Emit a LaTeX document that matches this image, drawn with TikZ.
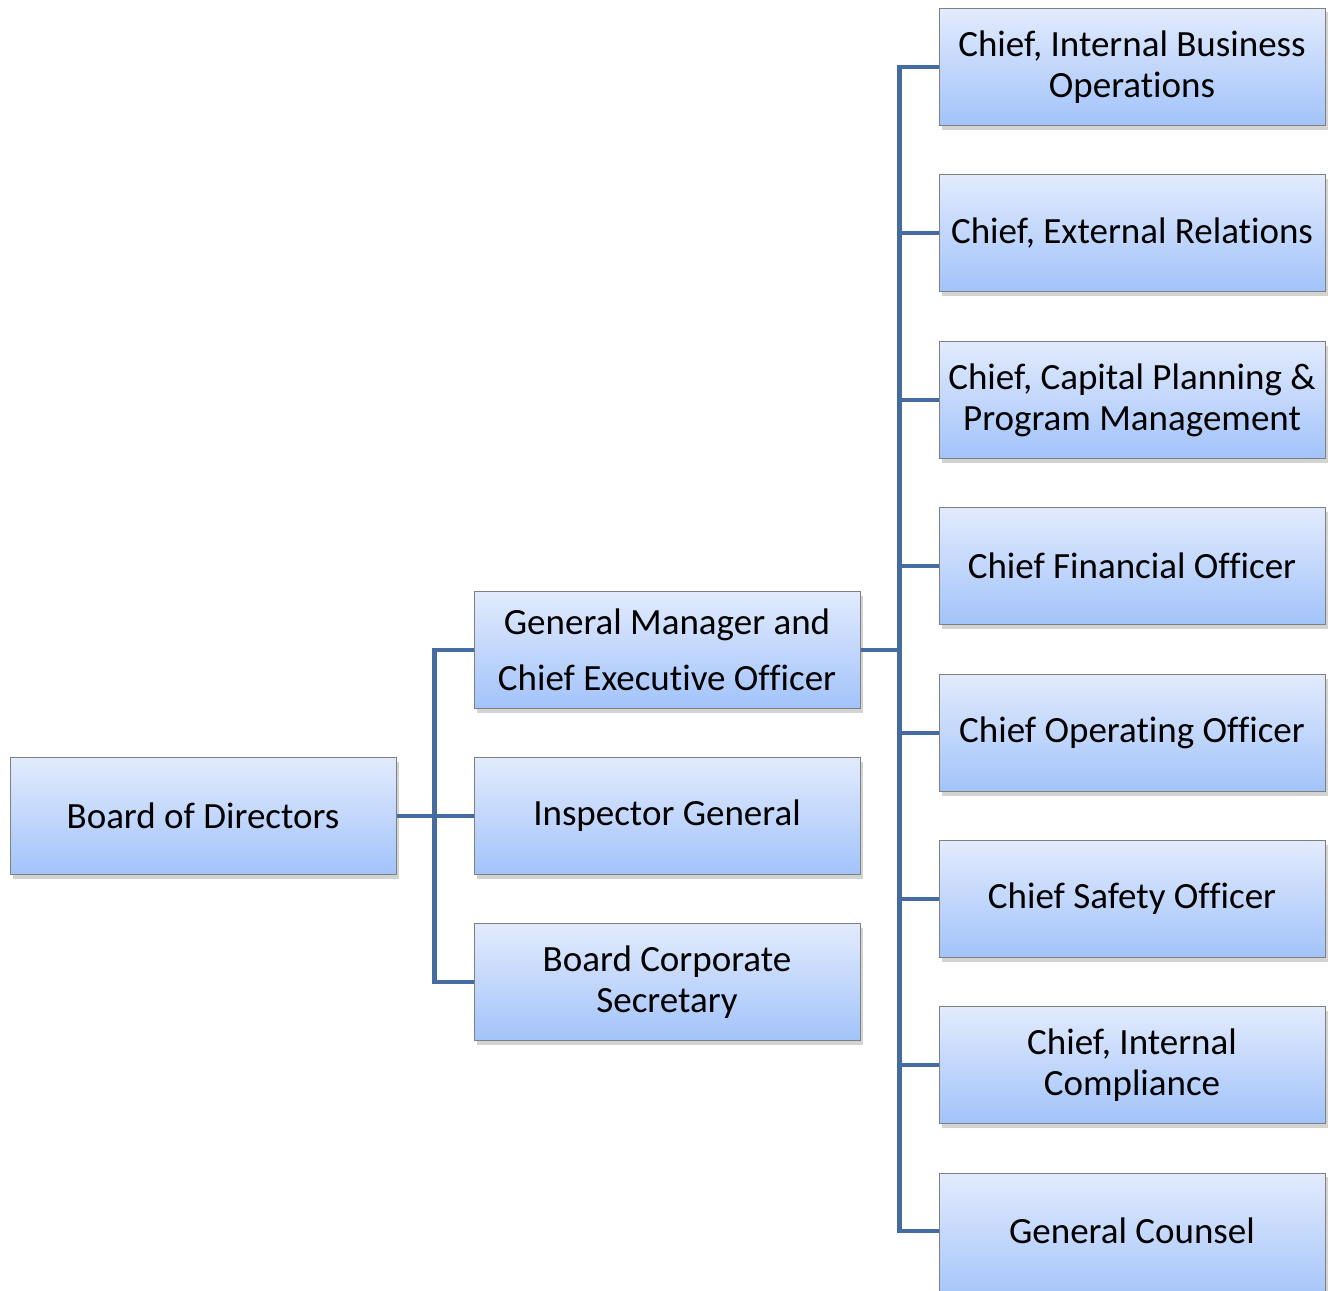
\documentclass[tikz,border=0pt]{standalone}
\usepackage{fontspec}
\setmainfont{Carlito}[Ligatures=NoCommon]
\usepackage{tikz}
\usetikzlibrary{positioning, shadows, calc}
\definecolor{boxtop}{RGB}{226,235,253}
\definecolor{boxbottom}{RGB}{162,195,250}
\definecolor{boxedge}{RGB}{128,128,128}
\definecolor{linkblue}{RGB}{68,108,162}

\begin{document}
\begin{tikzpicture}[
    x=1pt, y=-1pt,
    every node/.style={font=\fontsize{37}{41}\selectfont, text=black, align=center},
    orgbox/.style={draw=boxedge, line width=1pt, top color=boxtop, bottom color=boxbottom,
        minimum width=386pt, minimum height=117pt, inner sep=0pt,
        drop shadow={shadow xshift=3pt, shadow yshift=-4pt, opacity=0.35}},
    orglink/.style={draw=linkblue, line width=4.5pt, line join=miter}
]
    \useasboundingbox (0,0) rectangle (1330,1290);

    % left and middle column
    \node[orgbox] (board) at (203,816) {Board of Directors};
    \node[orgbox] (gm) at (667,650) {General Manager and\\[15pt]Chief Executive Officer};
    \node[orgbox] (ig) at (667,816) {Inspector General};
    \node[orgbox] (secretary) at (667,982) {Board Corporate\\Secretary};

    % right column
    \node[orgbox] (bizops) at (1132,67) {Chief, Internal Business\\Operations};
    \node[orgbox] (extrel) at (1132,233) {Chief, External Relations};
    \node[orgbox] (capital) at (1132,400) {Chief, Capital Planning \&\\Program Management};
    \node[orgbox] (cfo) at (1132,566) {Chief Financial Officer};
    \node[orgbox] (coo) at (1132,733) {Chief Operating Officer};
    \node[orgbox] (safety) at (1132,899) {Chief Safety Officer};
    \node[orgbox] (compliance) at (1132,1065) {Chief, Internal\\Compliance};
    \node[orgbox, minimum height=130pt] (counsel) at (1132,1238) {};
    \node (counseltext) at (1132,1231) {General Counsel};

    % connectors
    \draw[orglink] (board.east) -- (ig.west);
    \draw[orglink] (gm.west) -- ++(-39,0) |- (secretary.west);
    \draw[orglink] (gm.east) -- ++(40,0);
    \draw[orglink] (bizops.west) -- ++(-39,0) |- (counseltext -| counsel.west);
    \draw[orglink] (extrel.west) -- ++(-39,0);
    \draw[orglink] (capital.west) -- ++(-39,0);
    \draw[orglink] (cfo.west) -- ++(-39,0);
    \draw[orglink] (coo.west) -- ++(-39,0);
    \draw[orglink] (safety.west) -- ++(-39,0);
    \draw[orglink] (compliance.west) -- ++(-39,0);
\end{tikzpicture}
\end{document}
